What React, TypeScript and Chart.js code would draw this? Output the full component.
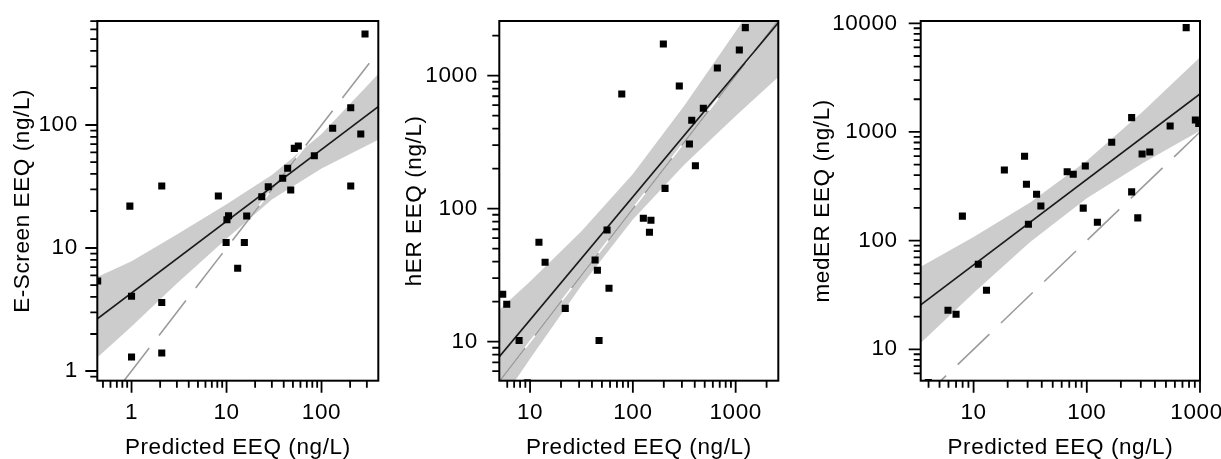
import React, { useEffect, useRef } from 'react';
import { Chart, registerables } from 'chart.js';

Chart.register(...registerables);

const FONT = "'Liberation Sans', Arial, Helvetica, sans-serif";

// ---------- Panel 1: E-Screen ----------
const escreenPredicted = [0.44, 0.96, 1.0, 1.0, 2.08, 2.08, 2.08, 8.2, 10.1, 10.5, 9.9, 13.1, 15.4, 16.3, 23.5, 27.5, 39, 44, 47.4, 51.7, 57, 84, 131, 203, 203, 259, 287];
const escreenMeasured = [5.4, 21.9, 4.05, 1.3, 31.9, 3.6, 1.4, 26.5, 17.0, 18.3, 11.1, 6.84, 11.1, 18.2, 26.1, 31.5, 36.9, 44.5, 29.6, 64.6, 67.5, 56.3, 94, 138, 31.9, 84.5, 550];
const escreenFitX = [0.436, 396];
const escreenFitY = [2.66, 141];
const escreenBandX = [0.436, 1, 3, 10, 30, 100, 396];
const escreenBandUpper = [5.8, 7.8, 12.9, 22.7, 39.3, 84.7, 260];
const escreenBandLower = [1.29, 2.3, 5.14, 11.9, 24.8, 44.4, 76];
const escreenIdentity = [0.8, 350];
const escreenXRange = [0.436, 396];
const escreenYRange = [0.834, 701];
const escreenXTicks = [1, 10, 100];
const escreenXTickText = ['1', '10', '100'];
const escreenYTicks = [1, 10, 100];
const escreenYTickText = ['1', '10', '100'];

// ---------- Panel 2: hER ----------
const herPredicted = [5.42, 5.93, 7.82, 9.4, 12.2, 14.0, 22.0, 42.9, 45.2, 46.9, 56.1, 58.6, 78, 126.5, 145, 150, 198, 205.6, 283, 355, 374, 406, 485, 664, 1086, 1242];
const herMeasured = [22.7, 19.1, 10.2, 4.9, 55.9, 39.5, 17.8, 41.1, 34.4, 10.2, 69.2, 25.2, 728, 84.7, 66.5, 81.8, 1730, 142, 837, 306, 462, 210, 569, 1142, 1560, 2296];
const herFitX = [5.02, 2600];
const herFitY = [7.7, 2500];
const herBandX = [5.02, 10, 31.6, 100, 316, 1000, 2600];
const herBandUpper = [17.4, 28.4, 67.5, 182, 594, 2150, 6440];
const herBandLower = [3.4, 7.45, 26.5, 82.8, 214, 498, 975];
const herIdentity = [4.9, 2700];
const herXRange = [5.02, 2600];
const herYRange = [5.09, 2575];
const herXTicks = [10, 100, 1000];
const herXTickText = ['10', '100', '1000'];
const herYTicks = [10, 100, 1000];
const herYTickText = ['10', '100', '1000'];

// ---------- Panel 3: medER ----------
const medPredicted = [3.98, 5.94, 7.0, 7.96, 11.0, 13.0, 18.7, 28.2, 29.3, 30.5, 36, 39.3, 67.1, 75.9, 93, 97, 124, 166, 249, 249, 282, 308, 360, 545, 755, 910, 975];
const medMeasured = [4.95, 22.9, 21.0, 168, 60.7, 35, 447, 598, 330, 141.6, 267, 208, 431, 408, 199, 487, 147.5, 804, 1355, 281, 162, 628, 655, 1135, 9120, 1290, 1200];
const medFitX = [3.41, 1000];
const medFitY = [25.6, 2240];
const medBandX = [3.41, 10, 31.6, 100, 316, 1000];
const medBandUpper = [57.5, 108, 224, 543, 1563, 4870];
const medBandLower = [11.4, 33.0, 97.3, 246, 522, 1027];
const medIdentity = [3, 1000];
const medXRange = [3.41, 1000];
const medYRange = [5.14, 10500];
const medXTicks = [10, 100, 1000];
const medXTickText = ['10', '100', '1000 '];
const medYTicks = [10, 100, 1000, 10000];
const medYTickText = ['10', '100', '1000', '10000'];

const X_TITLE = 'Predicted EEQ (ng/L)';
const CANVAS_H = 459;
const AREA_TOP = 21;
const AREA_BOTTOM = 380.7;

type Spec = {
  left: number;
  width: number;
  areaLeft: number;
  areaRight: number;
  yTitle: string;
  yTitlePad: number;
  yTickPad: number;
  px: number[];
  py: number[];
  fitX: number[];
  fitY: number[];
  bandX: number[];
  bandUpper: number[];
  bandLower: number[];
  identity: number[];
  xRange: number[];
  yRange: number[];
  xTicks: number[];
  xTickText: string[];
  yTicks: number[];
  yTickText: string[];
};

const specs: Spec[] = [
  {
    left: 0, width: 400, areaLeft: 97.3, areaRight: 378.3,
    yTitle: 'E-Screen EEQ (ng/L)', yTitlePad: 11.75, yTickPad: 11.5,
    px: escreenPredicted, py: escreenMeasured, fitX: escreenFitX, fitY: escreenFitY,
    bandX: escreenBandX, bandUpper: escreenBandUpper, bandLower: escreenBandLower,
    identity: escreenIdentity, xRange: escreenXRange, yRange: escreenYRange,
    xTicks: escreenXTicks, xTickText: escreenXTickText, yTicks: escreenYTicks, yTickText: escreenYTickText,
  },
  {
    left: 400, width: 410, areaLeft: 99.3, areaRight: 378.3,
    yTitle: 'hER EEQ (ng/L)', yTitlePad: 3.45, yTickPad: 13.5,
    px: herPredicted, py: herMeasured, fitX: herFitX, fitY: herFitY,
    bandX: herBandX, bandUpper: herBandUpper, bandLower: herBandLower,
    identity: herIdentity, xRange: herXRange, yRange: herYRange,
    xTicks: herXTicks, xTickText: herXTickText, yTicks: herYTicks, yTickText: herYTickText,
  },
  {
    left: 810, width: 411, areaLeft: 110.7, areaRight: 390,
    yTitle: 'medER EEQ (ng/L)', yTitlePad: 1.25, yTickPad: 15,
    px: medPredicted, py: medMeasured, fitX: medFitX, fitY: medFitY,
    bandX: medBandX, bandUpper: medBandUpper, bandLower: medBandLower,
    identity: medIdentity, xRange: medXRange, yRange: medYRange,
    xTicks: medXTicks, xTickText: medXTickText, yTicks: medYTicks, yTickText: medYTickText,
  },
];

function decadeTicks(min: number, max: number): number[] {
  const out: number[] = [];
  const e0 = Math.floor(Math.log10(min));
  const e1 = Math.ceil(Math.log10(max));
  for (let e = e0; e <= e1; e++) {
    for (let m = 1; m <= 9; m++) {
      const v = parseFloat((m * Math.pow(10, e)).toPrecision(8));
      if (v >= min * (1 - 1e-9) && v <= max * (1 + 1e-9)) out.push(v);
    }
  }
  return out;
}

function labelFor(v: number, majors: number[], texts: string[]): string {
  for (let i = 0; i < majors.length; i++) {
    if (Math.abs(majors[i] - v) / majors[i] < 1e-6) return texts[i];
  }
  return '';
}

const spacingPlugin = {
  id: 'letterSpacing',
  beforeDraw(chart: any) {
    chart.ctx.letterSpacing = '0.6px';
  },
  afterDraw(chart: any) {
    chart.ctx.letterSpacing = '0px';
  },
};

const frameTicksPlugin = {
  id: 'frameTicks',
  afterDraw(chart: any) {
    const { ctx, chartArea: a } = chart;
    const xs = chart.scales.x;
    const ys = chart.scales.y;
    ctx.save();
    ctx.strokeStyle = '#000';
    ctx.lineWidth = 1.8;
    ctx.beginPath();
    for (const t of xs.ticks) {
      const p = xs.getPixelForValue(t.value);
      const len = t.label ? 12 : 7;
      ctx.moveTo(p, a.bottom);
      ctx.lineTo(p, a.bottom + len);
    }
    for (const t of ys.ticks) {
      const p = ys.getPixelForValue(t.value);
      const len = t.label ? 12 : 7;
      ctx.moveTo(a.left, p);
      ctx.lineTo(a.left - len, p);
    }
    ctx.stroke();
    ctx.lineWidth = 2;
    ctx.strokeRect(a.left, a.top, a.right - a.left, a.bottom - a.top);
    ctx.restore();
  },
};

function Panel({ spec }: { spec: Spec }) {
  const ref = useRef<HTMLCanvasElement | null>(null);

  useEffect(() => {
    if (!ref.current) return;
    const s = spec;
    const points = s.px.map((x, i) => ({ x, y: s.py[i] }));
    const fit = s.fitX.map((x, i) => ({ x, y: s.fitY[i] }));
    const upper = s.bandX.map((x, i) => ({ x, y: s.bandUpper[i] }));
    const lower = s.bandX.map((x, i) => ({ x, y: s.bandLower[i] }));
    const ident = s.identity.map((v) => ({ x: v, y: v }));
    const xTickVals = decadeTicks(s.xRange[0], s.xRange[1]);
    const yTickVals = decadeTicks(s.yRange[0], s.yRange[1]);

    const chart = new Chart(ref.current, {
      type: 'scatter',
      data: {
        datasets: [
          { type: 'scatter', data: points, pointStyle: 'rect', pointRadius: 5, pointHoverRadius: 5, pointBackgroundColor: '#000', pointBorderWidth: 0, clip: 0 } as any,
          { type: 'line', data: fit, borderColor: '#1a1a1a', borderWidth: 1.7, pointRadius: 0, fill: false, tension: 0, clip: 0 } as any,
          { type: 'line', data: ident, borderColor: '#9c9c9c', borderWidth: 1.6, borderDash: [44, 16], pointRadius: 0, fill: false, tension: 0, clip: 0 } as any,
          { type: 'line', data: ident, borderColor: '#ffffff', borderWidth: 1.6, pointRadius: 0, fill: false, tension: 0, clip: 0 } as any,
          { type: 'line', data: upper, borderColor: 'rgba(0,0,0,0)', borderWidth: 0, backgroundColor: '#cccccc', pointRadius: 0, fill: '+1', tension: 0, clip: 0 } as any,
          { type: 'line', data: lower, borderColor: 'rgba(0,0,0,0)', borderWidth: 0, pointRadius: 0, fill: false, tension: 0, clip: 0 } as any,
        ],
      },
      options: {
        animation: false,
        responsive: false,
        maintainAspectRatio: false,
        devicePixelRatio: 1,
        events: [],
        layout: { padding: { left: 0, top: AREA_TOP, right: s.width - s.areaRight, bottom: 0 } },
        plugins: { legend: { display: false }, tooltip: { enabled: false } },
        scales: {
          x: {
            type: 'logarithmic',
            position: 'bottom',
            min: s.xRange[0],
            max: s.xRange[1],
            grid: { display: false },
            border: { display: false },
            afterBuildTicks: (scale: any) => { scale.ticks = xTickVals.map((v) => ({ value: v })); },
            afterFit: (scale: any) => {
              scale.height = CANVAS_H - AREA_BOTTOM;
              scale.paddingLeft = 0; scale.paddingRight = 0; scale.paddingTop = 0; scale.paddingBottom = 0;
            },
            ticks: {
              autoSkip: false, maxRotation: 0, minRotation: 0, padding: 10.5, color: '#000',
              font: { family: FONT, size: 22.5 },
              callback: (v: any) => labelFor(Number(v), s.xTicks, s.xTickText),
            },
            title: { display: true, text: X_TITLE, color: '#000', font: { family: FONT, size: 22.5, lineHeight: 1 }, padding: { top: 0, bottom: 0 } },
          },
          y: {
            type: 'logarithmic',
            position: 'left',
            min: s.yRange[0],
            max: s.yRange[1],
            grid: { display: false },
            border: { display: false },
            afterBuildTicks: (scale: any) => { scale.ticks = yTickVals.map((v) => ({ value: v })); },
            afterFit: (scale: any) => {
              scale.width = s.areaLeft;
              scale.paddingLeft = 0; scale.paddingRight = 0; scale.paddingTop = 0; scale.paddingBottom = 0;
            },
            ticks: {
              autoSkip: false, padding: s.yTickPad, color: '#000',
              font: { family: FONT, size: 22.5 },
              callback: (v: any) => labelFor(Number(v), s.yTicks, s.yTickText),
            },
            title: { display: true, text: s.yTitle, color: '#000', font: { family: FONT, size: 22.5, lineHeight: 1 }, padding: { top: s.yTitlePad, bottom: 0 } },
          },
        },
      } as any,
      plugins: [spacingPlugin, frameTicksPlugin],
    });

    return () => chart.destroy();
  }, [spec]);

  return (
    <canvas
      ref={ref}
      width={spec.width}
      height={CANVAS_H}
      style={{ position: 'absolute', left: spec.left, top: 0, width: spec.width, height: CANVAS_H }}
    />
  );
}

export default function App() {
  return (
    <div style={{ position: 'fixed', left: 0, top: 0, width: 1221, height: CANVAS_H, background: '#ffffff', overflow: 'hidden' }}>
      {specs.map((s, i) => (
        <Panel key={i} spec={s} />
      ))}
    </div>
  );
}
